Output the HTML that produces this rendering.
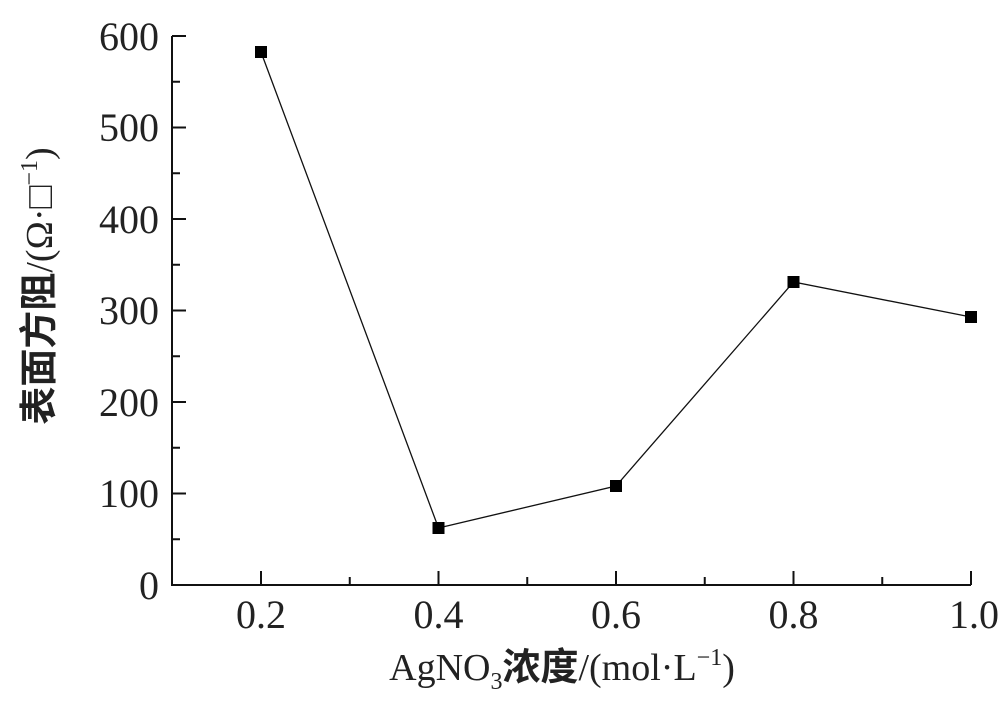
<!DOCTYPE html>
<html><head><meta charset="utf-8"><style>body{margin:0;background:#fff}</style></head><body>
<svg width="1000" height="703" xmlns="http://www.w3.org/2000/svg" font-family="'Liberation Serif','Noto Serif CJK SC',serif" fill="#222">
<g stroke="#111" stroke-width="2" fill="none">
<path d="M172,36 V585 H971"/>
<path d="M172,36h14M172,127.5h14M172,219h14M172,310.5h14M172,402h14M172,493.5h14"/>
<path d="M172,81.75h8M172,173.25h8M172,264.75h8M172,356.25h8M172,447.75h8M172,539.25h8"/>
<path d="M261,585v-14M438.5,585v-14M616,585v-14M793.5,585v-14M971,585v-14"/>
<path d="M349.75,585v-8M527.25,585v-8M704.75,585v-8M882.25,585v-8"/>
</g>
<g font-size="40" text-anchor="end">
<text x="159" y="50">600</text><text x="159" y="141">500</text><text x="159" y="233">400</text>
<text x="159" y="324">300</text><text x="159" y="416">200</text><text x="159" y="507">100</text><text x="159" y="599">0</text>
</g>
<g font-size="40" text-anchor="middle">
<text x="261" y="628">0.2</text><text x="438.5" y="628">0.4</text><text x="616" y="628">0.6</text><text x="793.5" y="628">0.8</text><text x="974" y="628">1.0</text>
</g>
<polyline points="261,52 438.5,528 616,486 793.5,282 971,317" fill="none" stroke="#111" stroke-width="1.3"/>
<g fill="#000">
<rect x="255" y="46" width="12" height="12"/><rect x="432.5" y="522" width="12" height="12"/><rect x="610" y="480" width="12" height="12"/><rect x="787.5" y="276" width="12" height="12"/><rect x="965" y="311" width="12" height="12"/>
</g>
<text x="562" y="680" font-size="38" text-anchor="middle">AgNO<tspan font-size="24" dy="9">3</tspan><tspan dy="-9" font-family="'Noto Sans CJK SC',sans-serif" font-weight="bold">浓度</tspan>/(mol·L<tspan font-size="24" dy="-15">−1</tspan><tspan dy="15">)</tspan></text>
<text transform="translate(52,286) rotate(-90)" font-size="38" text-anchor="middle"><tspan font-family="'Noto Sans CJK SC',sans-serif" font-weight="bold">表面方阻</tspan>/(Ω·□<tspan font-size="24" dy="-15">−1</tspan><tspan dy="15">)</tspan></text>
</svg>
</body></html>
